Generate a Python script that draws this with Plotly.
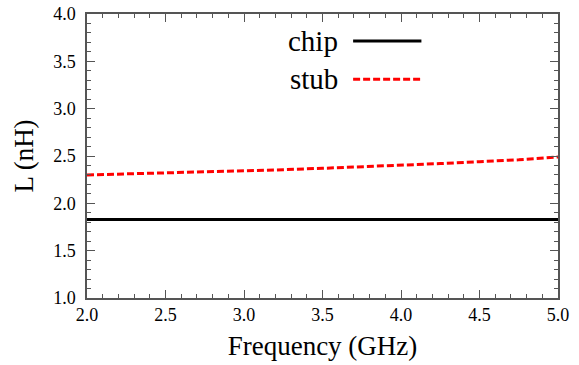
import plotly.graph_objects as go

freq = [2.0, 2.25, 2.5, 2.75, 3.0, 3.25, 3.5, 3.75, 4.0, 4.25, 4.5, 4.75, 5.0]
chip_L = [1.83] * len(freq)
stub_L = [2.30, 2.31, 2.32, 2.33, 2.34, 2.355, 2.37, 2.385, 2.40, 2.42, 2.44, 2.46, 2.49]
legend_labels = ["chip", "stub"]

FONT = "Liberation Serif, serif"
AX = "#555555"

fig = go.Figure()
fig.add_trace(go.Scatter(x=freq, y=chip_L, mode="lines", name=legend_labels[0],
                         line=dict(color="black", width=3), showlegend=False))
fig.add_trace(go.Scatter(x=freq, y=stub_L, mode="lines", name=legend_labels[1],
                         line=dict(color="#ff0000", width=3, dash="7px,3px"), showlegend=False))

# legend drawn as text + sample line (text left of sample, as in reference)
leg_y = [0.905, 0.77]
leg_styles = [dict(color="black", width=3), dict(color="#ff0000", width=3, dash="7px,3px")]
for lab, yy, st in zip(legend_labels, leg_y, leg_styles):
    fig.add_annotation(x=0.538, y=yy, xref="paper", yref="paper", text=lab,
                       showarrow=False, xanchor="right", yanchor="middle",
                       font=dict(family=FONT, size=29, color="black"))
    fig.add_shape(type="line", xref="paper", yref="paper",
                  x0=0.565, x1=0.71, y0=yy, y1=yy, line=st)

common = dict(
    showline=True, linecolor=AX, linewidth=1.5, mirror="allticks",
    ticks="inside", ticklen=8, tickwidth=1.2, tickcolor=AX,
    minor=dict(ticks="inside", ticklen=4, tickwidth=1, tickcolor=AX, dtick=0.1),
    showgrid=False, zeroline=False, automargin=False,
    tickfont=dict(family=FONT, size=18, color="black"),
    title_font=dict(family=FONT, size=27, color="black"),
    tickformat=".1f", dtick=0.5,
)

fig.update_xaxes(range=[2.0, 5.0], title_text="Frequency (GHz)", title_standoff=12,
                 tick0=2.0, **common)
fig.update_yaxes(range=[1.0, 4.0], title_text="L (nH)", title_standoff=12,
                 ticklabelstandoff=6, tick0=1.0, **common)

fig.update_layout(
    width=579, height=365,
    margin=dict(l=87, r=21, t=14, b=67),
    plot_bgcolor="white", paper_bgcolor="white",
    font=dict(family=FONT, color="black"),
)

fig.write_html("out.html", config={"displayModeBar": False},
               post_script="document.body.style.margin='0';document.body.style.overflow='hidden';")
